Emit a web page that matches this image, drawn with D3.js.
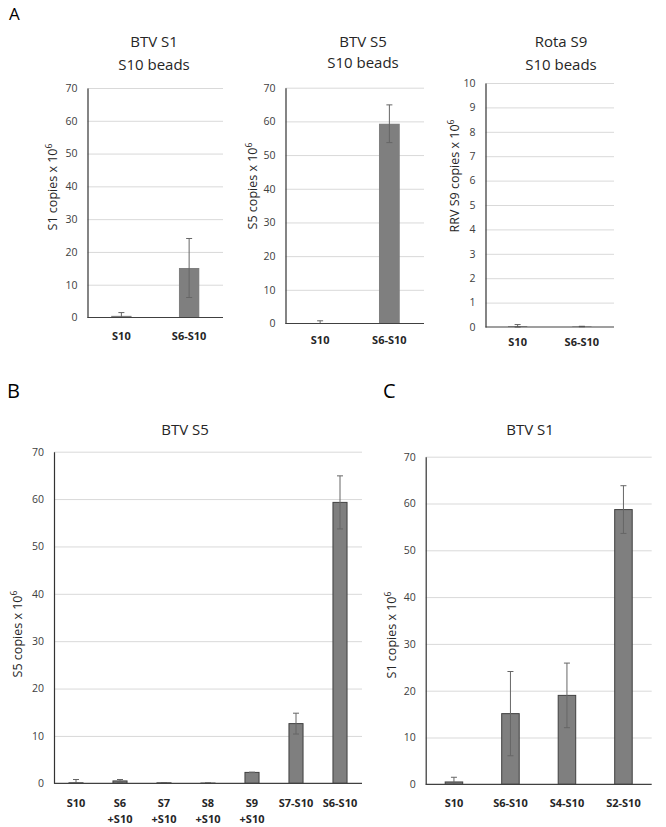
<!DOCTYPE html>
<html><head><meta charset="utf-8">
<script src="https://cdn.jsdelivr.net/npm/d3@7"></script>
<style>
body{margin:0;background:#fff;}
svg{display:block;font-family:"Open Sans","Noto Sans",sans-serif;}
</style></head>
<body><svg id="c" width="666" height="827"></svg>
<script>
// ---- Data ----
const a1Categories = ["S10", "S6-S10"];
const a1Values = [0.5, 15.1];
const a1Errors = [1.0, 9.0];

const a2Categories = ["S10", "S6-S10"];
const a2Values = [0.1, 59.3];
const a2Errors = [0.7, 5.6];

const a3Categories = ["S10", "S6-S10"];
const a3Values = [0.03, 0.02];
const a3Errors = [0.07, 0.01];

const bCategories = [["S10"], ["S6", "+S10"], ["S7", "+S10"], ["S8", "+S10"], ["S9", "+S10"], ["S7-S10"], ["S6-S10"]];
const bValues = [0.1, 0.5, 0.1, 0.05, 2.3, 12.6, 59.3];
const bErrors = [0.7, 0.3, 0.05, 0.02, 0.05, 2.2, 5.6];

const cCategories = ["S10", "S6-S10", "S4-S10", "S2-S10"];
const cValues = [0.5, 15.1, 19.0, 58.7];
const cErrors = [1.0, 9.0, 6.9, 5.1];

const ticks70 = [0, 10, 20, 30, 40, 50, 60, 70];
const ticks10 = [0, 1, 2, 3, 4, 5, 6, 7, 8, 9, 10];

const svg = d3.select("#c");

function panel(o) {
  const g = svg.append("g");
  const x = d3.scaleBand().domain(o.cats.map((c, i) => i)).range([o.x0, o.x1]).paddingInner(o.pad).paddingOuter(o.pad / 2);
  const y = d3.scaleLinear().domain([0, o.max]).range([o.yb, o.yt]);

  g.selectAll("line.grid").data(o.ticks.filter(t => t > 0)).join("line")
    .attr("x1", o.x0).attr("x2", o.x1)
    .attr("y1", d => y(d) + 0.5).attr("y2", d => y(d) + 0.5)
    .attr("stroke", "#d9d9d9").attr("stroke-width", 1);

  const ya = d3.axisLeft(y).tickValues(o.ticks).tickSize(0).tickPadding(10).tickFormat(d3.format("d"));
  const yg = g.append("g").attr("transform", `translate(${o.x0},0)`).call(ya);
  yg.select(".domain").attr("stroke", "#333").attr("stroke-width", 1.2);
  yg.selectAll("text").attr("fill", "#404040").attr("font-size", 10.5).attr("font-family", "'Open Sans',sans-serif");

  g.selectAll("rect.bar").data(o.vals).join("rect")
    .attr("x", (d, i) => x(i)).attr("width", x.bandwidth())
    .attr("y", d => y(d)).attr("height", d => Math.max(0, y(0) - y(d)))
    .attr("fill", "#7f7f7f")
    .attr("stroke", o.outline ? "#404040" : "none").attr("stroke-width", 1);

  const eg = g.selectAll("g.err").data(o.vals).join("g").attr("stroke", "#666").attr("stroke-width", 1);
  eg.append("line")
    .attr("x1", (d, i) => x(i) + x.bandwidth() / 2).attr("x2", (d, i) => x(i) + x.bandwidth() / 2)
    .attr("y1", (d, i) => y(Math.max(0, d - o.errs[i]))).attr("y2", (d, i) => y(d + o.errs[i]));
  eg.append("line")
    .attr("x1", (d, i) => x(i) + x.bandwidth() / 2 - 3).attr("x2", (d, i) => x(i) + x.bandwidth() / 2 + 3)
    .attr("y1", (d, i) => y(d + o.errs[i])).attr("y2", (d, i) => y(d + o.errs[i]));
  eg.append("line")
    .attr("x1", (d, i) => x(i) + x.bandwidth() / 2 - 3).attr("x2", (d, i) => x(i) + x.bandwidth() / 2 + 3)
    .attr("y1", (d, i) => y(Math.max(0, d - o.errs[i]))).attr("y2", (d, i) => y(Math.max(0, d - o.errs[i])));

  g.append("line").attr("x1", o.x0).attr("x2", o.x1).attr("y1", y(0)).attr("y2", y(0))
    .attr("stroke", "#404040").attr("stroke-width", 1.2);

  o.cats.forEach((c, i) => {
    const lines = Array.isArray(c) ? c : [c];
    lines.forEach((t, j) => {
      g.append("text").attr("x", x(i) + x.bandwidth() / 2).attr("y", o.xlb + j * 16.5)
        .attr("text-anchor", "middle").attr("font-weight", "bold").attr("font-size", 11)
        .attr("fill", "#262626").text(t);
    });
  });

  o.title.forEach((t, j) => {
    g.append("text").attr("x", o.tx).attr("y", o.ty[j]).attr("text-anchor", "middle")
      .attr("font-size", 15).attr("fill", "#262626").text(t);
  });

  const yl = g.append("text").attr("transform", `translate(${o.ylx},${o.yly}) rotate(-90)`)
    .attr("text-anchor", "middle").attr("font-size", 12.5).attr("fill", "#262626");
  yl.append("tspan").text(o.ylabel + " x 10");
  yl.append("tspan").attr("dy", -5).attr("font-size", 8.5).text("6");
}

panel({cats: a1Categories, vals: a1Values, errs: a1Errors, max: 70, ticks: ticks70,
  x0: 87.5, x1: 223, yt: 88, yb: 317.5, pad: 0.7, outline: false, xlb: 340,
  title: ["BTV S1", "S10 beads"], tx: 154, ty: [47, 70], ylabel: "S1 copies", ylx: 57, yly: 187});

panel({cats: a2Categories, vals: a2Values, errs: a2Errors, max: 70, ticks: ticks70,
  x0: 285.5, x1: 424, yt: 87.7, yb: 323.5, pad: 0.7, outline: false, xlb: 344,
  title: ["BTV S5", "S10 beads"], tx: 363, ty: [47, 68], ylabel: "S5 copies", ylx: 257, yly: 186});

panel({cats: a3Categories, vals: a3Values, errs: a3Errors, max: 10, ticks: ticks10,
  x0: 485.5, x1: 614, yt: 83, yb: 327, pad: 0.7, outline: false, xlb: 346,
  title: ["Rota S9", "S10 beads"], tx: 561, ty: [47, 70], ylabel: "RRV S9 copies", ylx: 459, yly: 176});

panel({cats: bCategories, vals: bValues, errs: bErrors, max: 70, ticks: ticks70,
  x0: 54, x1: 362, yt: 451.7, yb: 783.3, pad: 0.68, outline: true, xlb: 806.5,
  title: ["BTV S5"], tx: 185, ty: [435], ylabel: "S5 copies", ylx: 22, yly: 634});

panel({cats: cCategories, vals: cValues, errs: cErrors, max: 70, ticks: ticks70,
  x0: 425.7, x1: 651.7, yt: 456.7, yb: 784.3, pad: 0.69, outline: true, xlb: 806.5,
  title: ["BTV S1"], tx: 530, ty: [435], ylabel: "S1 copies", ylx: 396, yly: 635});

[["A", 9, 20, 17], ["B", 7, 398, 20], ["C", 383, 398, 20]].forEach(([t, x, y, s]) => {
  svg.append("text").attr("x", x).attr("y", y).attr("font-size", s).attr("fill", "#000").text(t);
});
</script></body></html>
